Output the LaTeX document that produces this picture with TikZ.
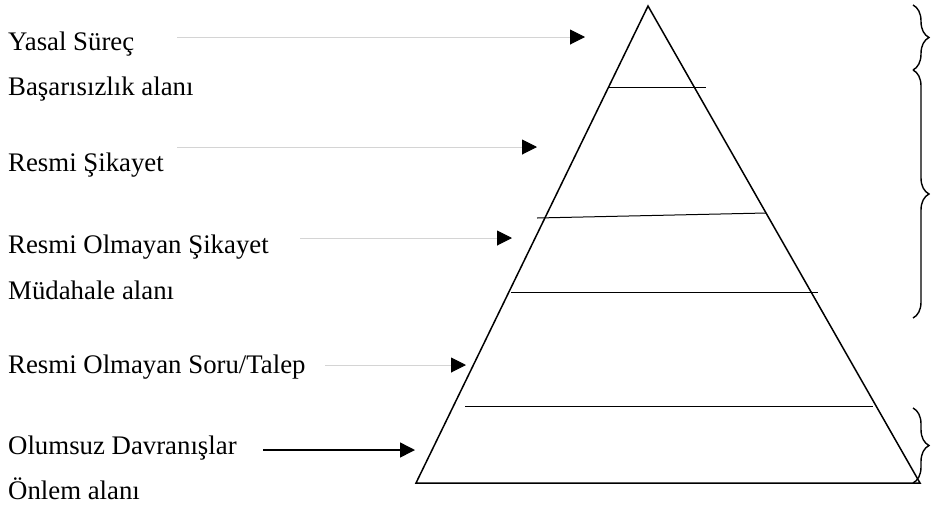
\documentclass[tikz,border=0pt]{standalone}
\usepackage{fontspec}
\setmainfont{Liberation Serif}
\usetikzlibrary{arrows.meta,decorations.pathreplacing}
\definecolor{lightline}{HTML}{D4D4D4}
\begin{document}
\begin{tikzpicture}[x=1pt,y=-1pt,
  label/.style={anchor=base west,inner sep=0pt,font=\fontsize{26.8}{30}\selectfont},
  tip/.style={-{Triangle[length=15pt,width=15pt,color=black,fill=black]}},
  faintarrow/.style={tip,draw=lightline,line width=1pt},
  strongarrow/.style={tip,draw=black,line width=1.5pt},
  level/.style={draw=black,line width=1pt},
  pyramid/.style={draw=black,line width=1.5pt,line join=miter},
  curly/.style={draw=black,line width=1.4pt,decorate,decoration={brace,amplitude=16pt}}]
\useasboundingbox (0,0) rectangle (931,507);

% pyramid outline
\coordinate (apex) at (648,6);
\coordinate (bl) at (416,483);
\coordinate (br) at (920,483);
\draw[pyramid] (apex) -- (br) -- (bl) -- cycle;

% level lines across the pyramid
\coordinate (l1a) at (609,87);  \coordinate (l1b) at (706,87);
\coordinate (l2a) at (537,218); \coordinate (l2b) at (766,213);
\coordinate (l3a) at (511,292); \coordinate (l3b) at (818,292);
\coordinate (l4a) at (465,406); \coordinate (l4b) at (873,406);
\draw[level] (l1a) -- (l1b);
\draw[level] (l2a) -- (l2b);
\draw[level] (l3a) -- (l3b);
\draw[level] (l4a) -- (l4b);

% labels
\node[label] (yasal)  at (8,50)  {Yasal Süreç};
\node[label] (basar)  at (8,95)  {Başarısızlık alanı};
\node[label] (resmi)  at (8,171) {Resmi Şikayet};
\node[label] (gayri)  at (8,253) {Resmi Olmayan Şikayet};
\node[label] (mudah)  at (8,299) {Müdahale alanı};
\node[label] (soru)   at (8,373) {Resmi Olmayan Soru/Talep};
\node[label] (olumsuz) at (8,454) {Olumsuz Davranışlar};
\node[label] (onlem)  at (8,499) {Önlem alanı};

% pointer arrows
\coordinate (a1s) at (177,37);  \coordinate (a1e) at (585,37);
\coordinate (a2s) at (177,147); \coordinate (a2e) at (537,147);
\coordinate (a3s) at (300,238); \coordinate (a3e) at (512,238);
\coordinate (a4s) at (325,365); \coordinate (a4e) at (466,365);
\coordinate (a5s) at (263,450); \coordinate (a5e) at (415,450);
\draw[faintarrow] (a1s) -- (a1e);
\draw[faintarrow] (a2s) -- (a2e);
\draw[faintarrow] (a3s) -- (a3e);
\draw[faintarrow] (a4s) -- (a4e);
\draw[strongarrow] (a5s) -- (a5e);

% braces on the right
\coordinate (b1t) at (913,5);   \coordinate (b1b) at (913,70);
\coordinate (b2t) at (913,70);  \coordinate (b2b) at (913,318);
\coordinate (b3t) at (913,408); \coordinate (b3b) at (913,483);
\draw[curly] (b1t) -- (b1b);
\draw[curly] (b2t) -- (b2b);
\draw[curly] (b3t) -- (b3b);
\end{tikzpicture}
\end{document}
